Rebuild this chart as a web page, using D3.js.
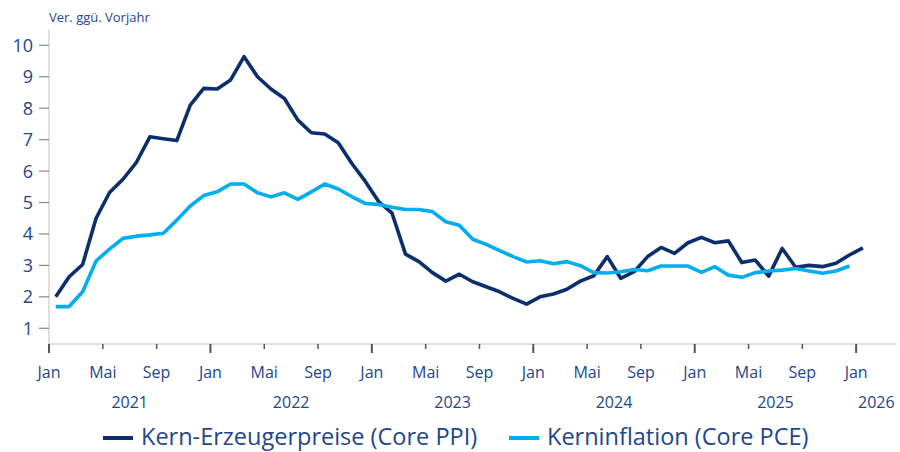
<!DOCTYPE html>
<meta charset="utf-8">
<head>
    <script src="https://d3js.org/d3.v7.min.js"></script>
    <style>
        body { margin: 0; background: #fff; }
        text { font-family: "Open Sans", sans-serif; fill: #23468a; }
    </style>
</head>
<body>
<svg id="chart" width="900" height="452"></svg>
<script>

    // monthly values, Jan 2021 onwards
    var ppi = [2.0, 2.64, 3.03, 4.5, 5.32, 5.74, 6.28, 7.09, 7.03, 6.97, 8.1, 8.63,
               8.61, 8.9, 9.64, 9.0, 8.61, 8.31, 7.62, 7.22, 7.18, 6.9, 6.25, 5.68,
               5.03, 4.66, 3.36, 3.12, 2.77, 2.5, 2.72, 2.48, 2.32, 2.16, 1.95, 1.77,
               2.0, 2.09, 2.24, 2.5, 2.67, 3.28, 2.59, 2.8, 3.28, 3.57, 3.38, 3.72,
               3.89, 3.72, 3.78, 3.09, 3.17, 2.66, 3.54, 2.94, 3.0, 2.96, 3.07, 3.33,
               3.56];
    var pce = [1.69, 1.69, 2.16, 3.14, 3.52, 3.86, 3.93, 3.97, 4.02, 4.44, 4.89, 5.22,
               5.34, 5.59, 5.59, 5.31, 5.18, 5.31, 5.1, 5.34, 5.59, 5.43, 5.19, 4.97,
               4.94, 4.85, 4.78, 4.78, 4.71, 4.39, 4.28, 3.83, 3.67, 3.47, 3.28, 3.11,
               3.15, 3.05, 3.12, 2.99, 2.77, 2.76, 2.8, 2.87, 2.83, 2.98, 2.98, 2.98,
               2.78, 2.96, 2.69, 2.62, 2.77, 2.82, 2.85, 2.9, 2.82, 2.75, 2.82, 2.98];
    var monthLabels = ["Jan", "Mai", "Sep"];
    var years = ["2021", "2022", "2023", "2024", "2025", "2026"];
    var yTicks = [1, 2, 3, 4, 5, 6, 7, 8, 9, 10];
    var seriesNames = ["Kern-Erzeugerpreise (Core PPI)", "Kerninflation (Core PCE)"];
    var colors = ["#0b2f6d", "#00aeef"];

    var svg = d3.select("#chart");
    var x = d3.scaleLinear().domain([0, 63]).range([49, 896.5]);
    var y = d3.scaleLinear().domain([0.5, 10.5]).range([344, 29.6]);

    // y axis
    svg.append("line")
        .attr("x1", x(0)).attr("x2", x(0))
        .attr("y1", y(10.5)).attr("y2", y(0.5))
        .attr("stroke", "#d4d4d4").attr("stroke-width", 1.5);
    svg.selectAll(".ytick").data(yTicks).enter().append("line")
        .attr("x1", 39).attr("x2", x(0))
        .attr("y1", function(d){ return y(d); }).attr("y2", function(d){ return y(d); })
        .attr("stroke", "#8a8a8a").attr("stroke-width", 1.2);
    svg.selectAll(".ylab").data(yTicks).enter().append("text")
        .attr("x", 33).attr("y", function(d){ return y(d) + 6.5; })
        .attr("text-anchor", "end").attr("font-size", 18)
        .text(function(d){ return d; });

    svg.append("text").attr("x", 49).attr("y", 22).attr("font-size", 13)
        .text("Ver. ggü. Vorjahr");

    // x axis
    svg.append("line")
        .attr("x1", x(0)).attr("x2", x(63))
        .attr("y1", y(0.5)).attr("y2", y(0.5))
        .attr("stroke", "#d4d4d4").attr("stroke-width", 1.5);
    var xt = d3.range(0, 61, 4);
    svg.selectAll(".xtick").data(xt).enter().append("line")
        .attr("x1", function(d){ return x(d); }).attr("x2", function(d){ return x(d); })
        .attr("y1", y(0.5))
        .attr("y2", function(d){ return y(0.5) + (d % 12 == 0 ? 9 : 5); })
        .attr("stroke", "#555").attr("stroke-width", function(d){ return d % 12 == 0 ? 2 : 1.5; });
    svg.selectAll(".xlab").data(xt).enter().append("text")
        .attr("x", function(d){ return x(d); }).attr("y", 378)
        .attr("text-anchor", "middle").attr("font-size", 16)
        .text(function(d){ return monthLabels[(d % 12) / 4]; });
    svg.selectAll(".year").data(years).enter().append("text")
        .attr("x", function(d, i){ return i < 5 ? x(i * 12 + 6) : x(i * 12 + 1.5); })
        .attr("y", 408).attr("text-anchor", "middle").attr("font-size", 16)
        .text(function(d){ return d; });

    // lines
    var line = d3.line()
        .x(function(d, i){ return x(i + 0.5); })
        .y(function(d){ return y(d); });
    [ppi, pce].forEach(function(s, k){
        svg.append("path").datum(s)
            .attr("d", line)
            .attr("fill", "none")
            .attr("stroke", colors[k])
            .attr("stroke-width", 3.6)
            .attr("stroke-linejoin", "round");
    });

    // legend
    var lx = [103, 509];
    seriesNames.forEach(function(n, k){
        svg.append("line")
            .attr("x1", lx[k]).attr("x2", lx[k] + 30)
            .attr("y1", 438).attr("y2", 438)
            .attr("stroke", colors[k]).attr("stroke-width", 4);
        svg.append("text")
            .attr("x", lx[k] + 38).attr("y", 445).attr("font-size", 23.5)
            .text(n);
    });

</script>
</body>
